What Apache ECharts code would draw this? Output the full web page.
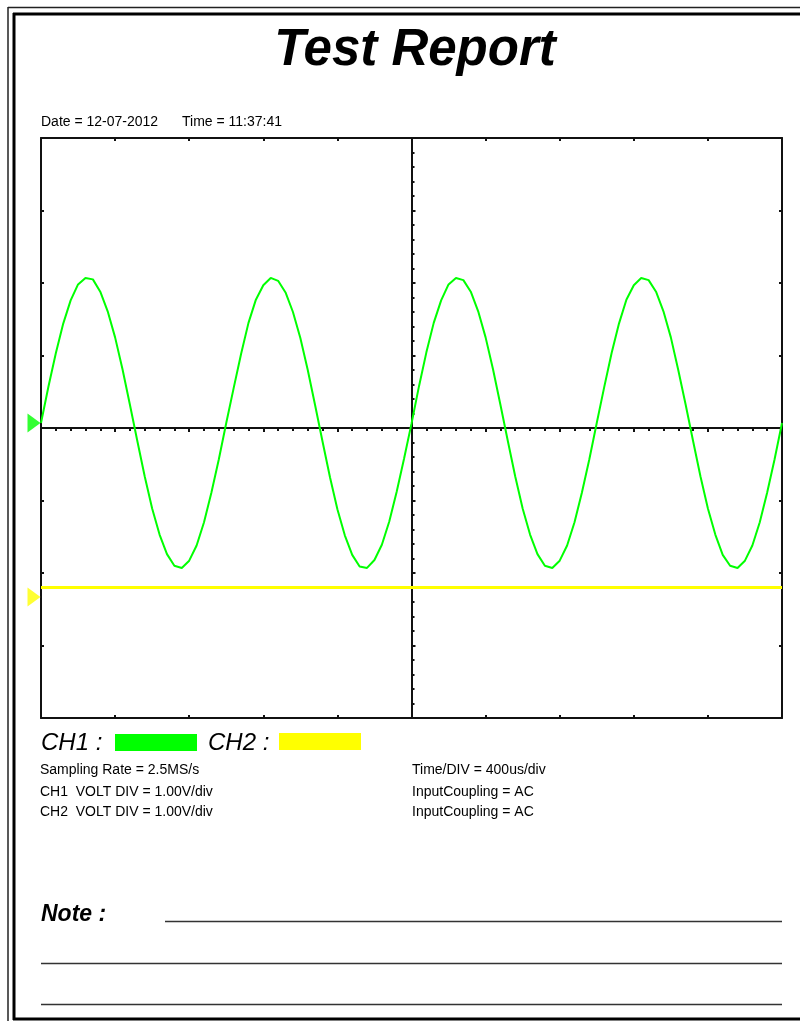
<!DOCTYPE html>
<html>
<head>
<meta charset="utf-8">
<script src="https://cdn.jsdelivr.net/npm/echarts@6/dist/echarts.min.js"></script>
<style>
html,body{margin:0;padding:0;background:#fff;}
#chart{width:800px;height:1021px;}
</style>
</head>
<body>
<div id="chart"></div>
<script>
// ---- data ----
const titleText = 'Test Report';
const dateText = 'Date = 12-07-2012';
const timeText = 'Time = 11:37:41';
const infoLeft = ['Sampling Rate = 2.5MS/s', 'CH1  VOLT DIV = 1.00V/div', 'CH2  VOLT DIV = 1.00V/div'];
const infoRight = ['Time/DIV = 400us/div', 'InputCoupling = AC', 'InputCoupling = AC'];
const channelNames = ['CH1 :', 'CH2 :'];

// time axis (microseconds, centred on trigger), 10 div x 400 us
const timeMin = -2000, timeMax = 2000, timeDiv = 400;
// volts axis, 8 div x 1 V
const voltMin = -4, voltMax = 4, voltDiv = 1;
const sampleStepUs = 40;

// CH1 samples (V), one every 40 us
const ch1Volts = [
  0.07, 0.57, 1.03, 1.44, 1.76, 1.98, 2.07, 2.05, 1.88, 1.61, 1.25, 0.81, 0.32, -0.18, -0.67, -1.11, -1.47, -1.74, -1.90, -1.93, -1.83, -1.62, -1.30, -0.89, -0.43,
  0.07, 0.55, 1.02, 1.45, 1.77, 1.97, 2.07, 2.03, 1.87, 1.60, 1.24, 0.80, 0.31, -0.19, -0.68, -1.12, -1.48, -1.75, -1.91, -1.93, -1.82, -1.61, -1.29, -0.88, -0.42,
  0.06, 0.57, 1.04, 1.45, 1.76, 1.98, 2.07, 2.04, 1.88, 1.61, 1.25, 0.81, 0.32, -0.18, -0.67, -1.11, -1.47, -1.74, -1.90, -1.93, -1.83, -1.62, -1.30, -0.89, -0.43,
  0.07, 0.56, 1.03, 1.44, 1.77, 1.97, 2.07, 2.04, 1.88, 1.61, 1.25, 0.80, 0.32, -0.18, -0.67, -1.11, -1.47, -1.75, -1.90, -1.93, -1.83, -1.62, -1.30, -0.89, -0.43,
  0.07
];
// CH2 flat trace (V)
const ch2Times = [-2000, 2000];
const ch2Volts = [-2.20, -2.20];
// channel offset markers (V)
const ch1Marker = 0.07;
const ch2Marker = -2.33;

// ---- build ----
const ch1Data = ch1Volts.map((v, i) => [timeMin + i * sampleStepUs, v]);
const ch2Data = ch2Times.map((t, i) => [t, ch2Volts[i]]);

const GREEN = '#00ff00', YELLOW = '#ffff00';
const FONT = '"Liberation Sans", Arial, sans-serif';

function borderX(pos) {
  return {
    type: 'value', min: timeMin, max: timeMax, interval: timeDiv, position: pos,
    axisLine: { show: true, onZero: false, lineStyle: { color: '#111', width: 2 } },
    axisTick: { show: true, inside: true, length: 3, lineStyle: { color: '#111', width: 2 } },
    axisLabel: { show: false }, splitLine: { show: false }
  };
}
function borderY(pos) {
  return {
    type: 'value', min: voltMin, max: voltMax, interval: voltDiv, position: pos,
    axisLine: { show: true, onZero: false, lineStyle: { color: '#111', width: 2 } },
    axisTick: { show: true, inside: true, length: 3, lineStyle: { color: '#111', width: 2 } },
    axisLabel: { show: false }, splitLine: { show: false }
  };
}

const chart = echarts.init(document.getElementById('chart'), null, { renderer: 'canvas' });

const textStyleBase = { fill: '#000', verticalAlign: 'middle' };
const graphics = [
  // page border
  { type: 'line', shape: { x1: 8, y1: 7, x2: 8, y2: 1021 }, style: { stroke: '#222', lineWidth: 1.5 } },
  { type: 'line', shape: { x1: 8, y1: 7.5, x2: 800, y2: 7.5 }, style: { stroke: '#222', lineWidth: 1.5 } },
  { type: 'line', shape: { x1: 14, y1: 13, x2: 14, y2: 1020 }, style: { stroke: '#000', lineWidth: 3 } },
  { type: 'line', shape: { x1: 13, y1: 14, x2: 800, y2: 14 }, style: { stroke: '#000', lineWidth: 3 } },
  { type: 'line', shape: { x1: 13, y1: 1019, x2: 800, y2: 1019 }, style: { stroke: '#000', lineWidth: 3 } },
  // title
  { type: 'text', x: 415, y: 51, style: Object.assign({ text: titleText, font: 'italic bold 51px ' + FONT, align: 'center' }, textStyleBase) },
  // date / time
  { type: 'text', x: 41, y: 122, style: Object.assign({ text: dateText, font: '14px ' + FONT, align: 'left' }, textStyleBase) },
  { type: 'text', x: 182, y: 122, style: Object.assign({ text: timeText, font: '14px ' + FONT, align: 'left' }, textStyleBase) },
  // legend
  { type: 'text', x: 41, y: 743, style: Object.assign({ text: channelNames[0], font: 'italic 24px ' + FONT, align: 'left' }, textStyleBase) },
  { type: 'rect', shape: { x: 115, y: 734, width: 82, height: 17 }, style: { fill: GREEN } },
  { type: 'text', x: 208, y: 743, style: Object.assign({ text: channelNames[1], font: 'italic 24px ' + FONT, align: 'left' }, textStyleBase) },
  { type: 'rect', shape: { x: 279, y: 733, width: 82, height: 17 }, style: { fill: YELLOW } },
  // note
  { type: 'text', x: 41, y: 915, style: Object.assign({ text: 'Note :', font: 'italic bold 23px ' + FONT, align: 'left' }, textStyleBase) },
  { type: 'line', shape: { x1: 165, y1: 921.5, x2: 782, y2: 921.5 }, style: { stroke: '#333', lineWidth: 1.5 } },
  { type: 'line', shape: { x1: 41, y1: 963.5, x2: 782, y2: 963.5 }, style: { stroke: '#333', lineWidth: 1.5 } },
  { type: 'line', shape: { x1: 41, y1: 1004.5, x2: 782, y2: 1004.5 }, style: { stroke: '#333', lineWidth: 1.5 } }
];
const infoY = [770, 792, 812];
infoLeft.forEach((t, i) => graphics.push({ type: 'text', x: 40, y: infoY[i], style: Object.assign({ text: t, font: '14px ' + FONT, align: 'left' }, textStyleBase) }));
infoRight.forEach((t, i) => graphics.push({ type: 'text', x: 412, y: infoY[i], style: Object.assign({ text: t, font: '14px ' + FONT, align: 'left' }, textStyleBase) }));

chart.setOption({
  animation: false,
  backgroundColor: '#fff',
  grid: { left: 41, top: 138, width: 741, height: 580, containLabel: false, show: false },
  xAxis: [
    borderX('bottom'),
    borderX('top'),
    {
      type: 'value', min: timeMin, max: timeMax, interval: timeDiv, position: 'top',
      axisLine: { show: true, onZero: true, onZeroAxisIndex: 0, lineStyle: { color: '#111', width: 2 } },
      axisTick: { show: true, inside: true, length: 4, lineStyle: { color: '#111', width: 2 } },
      minorTick: { show: true, splitNumber: 5, length: 3, lineStyle: { color: '#111', width: 2 } },
      axisLabel: { show: false }, splitLine: { show: false }, minorSplitLine: { show: false }
    }
  ],
  yAxis: [
    borderY('left'),
    borderY('right'),
    {
      type: 'value', min: voltMin, max: voltMax, interval: voltDiv, position: 'left',
      axisLine: { show: true, onZero: true, onZeroAxisIndex: 0, lineStyle: { color: '#111', width: 2 } },
      axisTick: { show: true, inside: true, length: 4, lineStyle: { color: '#111', width: 2 } },
      minorTick: { show: true, splitNumber: 5, length: 3, lineStyle: { color: '#111', width: 2 } },
      axisLabel: { show: false }, splitLine: { show: false }, minorSplitLine: { show: false }
    }
  ],
  series: [
    {
      name: 'CH2', type: 'line', xAxisIndex: 0, yAxisIndex: 0, data: ch2Data,
      symbol: 'none', lineStyle: { color: YELLOW, width: 3 }, z: 3, silent: true
    },
    {
      name: 'CH1', type: 'line', xAxisIndex: 0, yAxisIndex: 0, data: ch1Data,
      symbol: 'none', lineStyle: { color: GREEN, width: 2 }, z: 4, silent: true
    },
    {
      name: 'markers', type: 'scatter', xAxisIndex: 0, yAxisIndex: 0, clip: false, silent: true,
      symbol: 'triangle', symbolRotate: -90, symbolSize: [19, 13], symbolOffset: [-7, 0],
      data: [
        { value: [timeMin, ch1Marker], itemStyle: { color: GREEN } },
        { value: [timeMin, ch2Marker], itemStyle: { color: YELLOW } }
      ], z: 5
    }
  ],
  graphic: graphics
});
</script>
</body>
</html>
